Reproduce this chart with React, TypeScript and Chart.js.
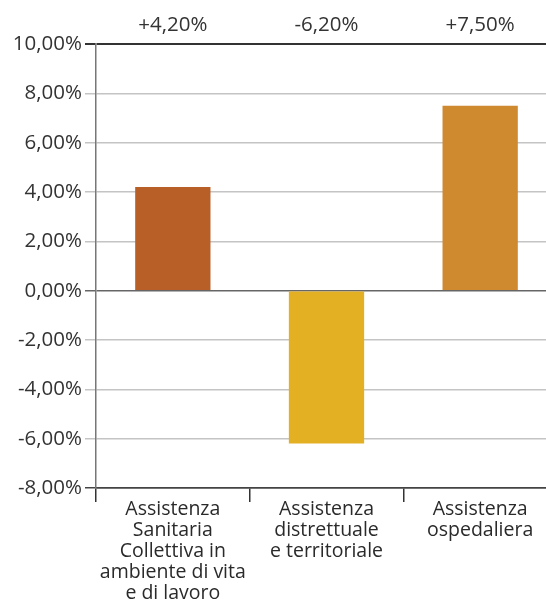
import React, { useEffect, useRef } from "react";
import { Chart, registerables } from "chart.js";

Chart.register(...registerables);

const categories: string[][] = [
  ["Assistenza", "Sanitaria", "Collettiva in", "ambiente di vita", "e di lavoro"],
  ["Assistenza", "distrettuale", "e territoriale"],
  ["Assistenza", "ospedaliera"],
];
const values: number[] = [4.2, -6.2, 7.5];
const barColors: string[] = ["#B85F27", "#E3B024", "#CF8A30"];
const yMin = -8;
const yMax = 10;
const yStep = 2;

const fmt = (v: number) => v.toFixed(2).replace(".", ",") + "%";
const fmtSigned = (v: number) => (v > 0 ? "+" : "") + fmt(v);

const FONT = "'Open Sans', 'Noto Sans', sans-serif";

export default function App() {
  const ref = useRef<HTMLCanvasElement | null>(null);

  useEffect(() => {
    document.documentElement.style.overflow = "hidden";
    document.body.style.overflow = "hidden";
    const canvas = ref.current;
    if (!canvas) return;

    const topLabels = {
      id: "topLabels",
      afterDraw(chart: any) {
        const ctx = chart.ctx;
        const meta = chart.getDatasetMeta(0);
        ctx.save();
        ctx.font = `20.5px ${FONT}`;
        ctx.fillStyle = "#333333";
        ctx.textAlign = "center";
        ctx.textBaseline = "alphabetic";
        meta.data.forEach((bar: any, i: number) => {
          ctx.fillText(fmtSigned(values[i]), bar.x, chart.chartArea.top - 13);
        });
        ctx.restore();
      },
    };

    const chart = new Chart(canvas, {
      type: "bar",
      data: {
        labels: categories,
        datasets: [
          {
            data: values,
            backgroundColor: barColors,
            borderWidth: 0,
            barPercentage: 0.49,
            categoryPercentage: 1,
          },
        ],
      },
      options: {
        animation: false,
        responsive: false,
        maintainAspectRatio: false,
        layout: { padding: { top: 44, right: 1, left: 0, bottom: 0 } },
        plugins: {
          legend: { display: false },
          tooltip: { enabled: false },
        },
        scales: {
          x: {
            grid: {
              display: true,
              offset: true,
              drawOnChartArea: false,
              drawTicks: true,
              tickLength: 14,
              color: "#333333",
              lineWidth: 1.5,
            },
            border: { display: true, color: "#444444", width: 1.5 },
            ticks: {
              padding: -3,
              maxRotation: 0,
              autoSkip: false,
              color: "#2a2a2a",
              font: { family: FONT, size: 19.5, lineHeight: 1.08 },
            },
            afterFit: (scale: any) => {
              scale.height = 111;
            },
          },
          y: {
            min: yMin,
            max: yMax,
            grid: {
              drawTicks: true,
              tickLength: 11,
              color: (c: any) => {
                const v = c.tick ? c.tick.value : 0;
                if (v === yMax) return "#333333";
                if (v === 0) return "#666666";
                if (v === yMin) return "#444444";
                return "#c4c4c4";
              },
              lineWidth: (c: any) => {
                const v = c.tick ? c.tick.value : 0;
                if (v === yMax) return 2;
                return 1.5;
              },
            },
            border: { display: true, color: "#777777", width: 1.5 },
            ticks: {
              stepSize: yStep,
              padding: 3,
              color: "#333333",
              font: { family: FONT, size: 20.5 },
              callback: (v: any) => fmt(Number(v)),
            },
            afterFit: (scale: any) => {
              scale.width = 96;
            },
          },
        },
      },
      plugins: [topLabels],
    });

    return () => chart.destroy();
  }, []);

  return (
    <div style={{ position: "absolute", left: 0, top: 0, width: 558, height: 599 }}>
      <canvas ref={ref} width={558} height={599} style={{ width: 558, height: 599, display: "block" }} />
    </div>
  );
}
